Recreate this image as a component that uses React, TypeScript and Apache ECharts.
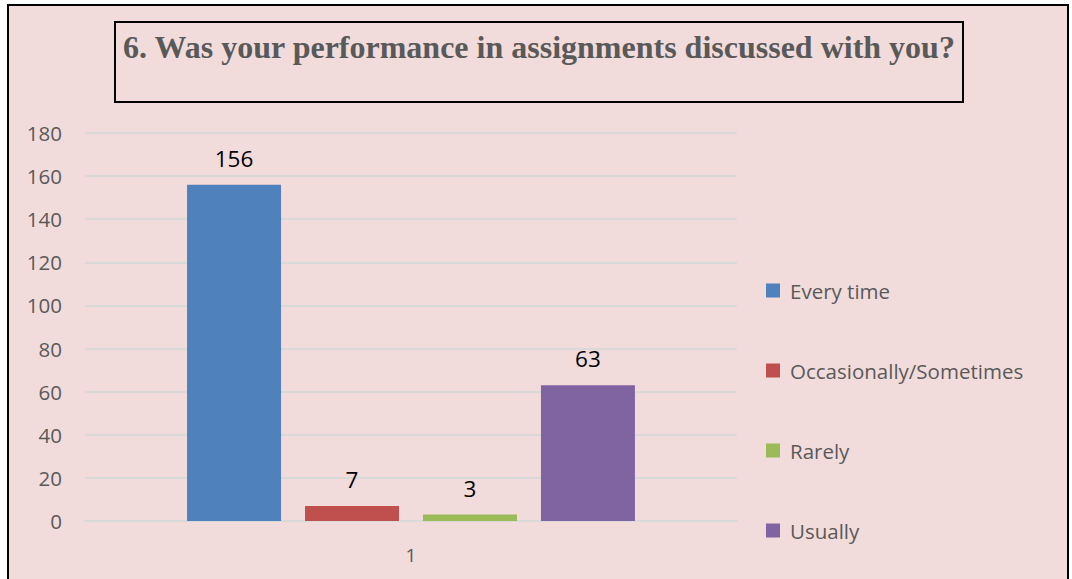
import React, { useEffect, useRef } from "react";
import * as echarts from "echarts";

const categories = ["1"];
const seriesNames = ["Every time", "Occasionally/Sometimes", "Rarely", "Usually"];
const seriesValues = [156, 7, 3, 63];
const seriesColors = ["#4f81bd", "#c0504d", "#9bbb59", "#8064a2"];
const titleText = "6. Was your performance in assignments discussed with you?";

export default function App() {
  const ref = useRef<HTMLDivElement>(null);
  useEffect(() => {
    if (!ref.current) return;
    const chart = echarts.init(ref.current, undefined, { renderer: "svg" });
    const font = "'Open Sans', 'Noto Sans', sans-serif";
    chart.setOption({
      animation: false,
      backgroundColor: "#ffffff",
      graphic: [
        {
          type: "rect",
          z: -10,
          shape: { x: 8, y: 5, width: 1060, height: 580 },
          style: { fill: "#f2dcdb", stroke: "#000000", lineWidth: 2 },
        },
        {
          type: "rect",
          z: -9,
          shape: { x: 115, y: 22, width: 848, height: 80 },
          style: { fill: "#f2dcdb", stroke: "#000000", lineWidth: 2 },
        },
        {
          type: "text",
          x: 539,
          y: 47,
          style: {
            text: titleText,
            fill: "#595959",
            font: "bold 32px 'Liberation Serif', 'Times New Roman', serif",
            align: "center",
            verticalAlign: "middle",
          },
        },
      ],
      grid: { left: 85, right: 335, top: 133, bottom: 58 },
      legend: {
        orient: "vertical",
        left: 766,
        top: 280,
        padding: 0,
        itemWidth: 14,
        itemHeight: 14,
        itemGap: 59,
        icon: "rect",
        textStyle: {
          color: "#595959",
          fontSize: 20.5,
          lineHeight: 21,
          fontFamily: font,
          padding: [0, 0, 0, 5],
        },
        data: seriesNames,
      },
      xAxis: {
        type: "category",
        data: categories,
        axisLine: { lineStyle: { color: "#d9d9d9", width: 2 } },
        axisTick: { show: false },
        axisLabel: { color: "#595959", fontSize: 19, fontFamily: font, margin: 24 },
      },
      yAxis: {
        type: "value",
        min: 0,
        max: 180,
        interval: 20,
        axisLine: { show: false },
        axisTick: { show: false },
        splitLine: { lineStyle: { color: "#d9d9d9", width: 2 } },
        axisLabel: { color: "#595959", fontSize: 20.5, fontFamily: font, margin: 23 },
      },
      series: seriesNames.map((name, i) => ({
        name,
        type: "bar",
        data: [seriesValues[i]],
        barWidth: 94,
        barGap: "25.5%",
        itemStyle: { color: seriesColors[i] },
        label: {
          show: true,
          position: "top",
          distance: 15,
          color: "#000000",
          fontSize: 22.5,
          fontFamily: font,
        },
      })),
    });
    return () => chart.dispose();
  }, []);
  return (
    <div
      ref={ref}
      style={{ position: "absolute", left: 0, top: 0, width: 1072, height: 579 }}
    />
  );
}
